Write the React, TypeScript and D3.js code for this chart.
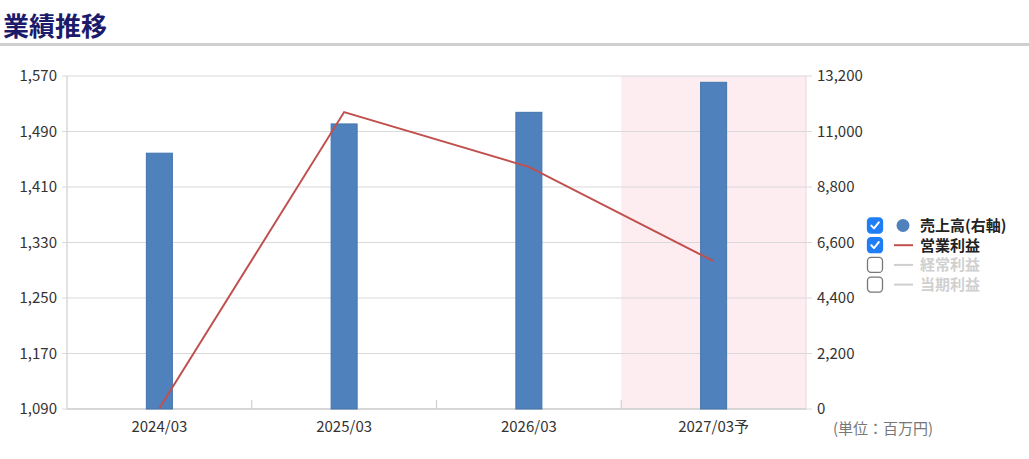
import { useEffect, useRef } from 'react';
import * as d3 from 'd3';

const periods = ['2024/03', '2025/03', '2026/03', '2027/03予'];
const sales = [10140, 11300, 11760, 12950];
const operatingProfit = [1091, 1518, 1439, 1303];
const forecastIndex = 3;

const leftTicks = [1090, 1170, 1250, 1330, 1410, 1490, 1570];
const rightTicks = [0, 2200, 4400, 6600, 8800, 11000, 13200];

const legendItems = [
  { label: '売上高(右軸)', type: 'circle', checked: true },
  { label: '営業利益', type: 'line', checked: true },
  { label: '経常利益', type: 'line', checked: false },
  { label: '当期利益', type: 'line', checked: false },
];

const BAR = '#4f81bd';
const LINE = '#c0504d';
const FONT = '"Noto Sans CJK JP", "Noto Sans", sans-serif';

export default function App() {
  const svgRef = useRef<SVGSVGElement>(null);

  useEffect(() => {
    document.body.style.margin = '0';
    if (!svgRef.current) return;
    const svg = d3.select(svgRef.current);
    svg.selectAll('*').remove();

    const plot = { left: 67, right: 806, top: 76, bottom: 409 };

    // title + rule
    svg.append('text')
      .attr('x', 3)
      .attr('y', 36)
      .attr('font-size', 26)
      .attr('font-weight', 'bold')
      .attr('fill', '#1c1a6b')
      .text('業績推移');
    svg.append('rect')
      .attr('x', 0).attr('y', 43)
      .attr('width', 1029).attr('height', 3)
      .attr('fill', '#cfcfcf');

    const x = d3.scaleBand<string>()
      .domain(periods)
      .range([plot.left, plot.right]);
    const yLeft = d3.scaleLinear().domain([1090, 1570]).range([plot.bottom, plot.top]);
    const yRight = d3.scaleLinear().domain([0, 13200]).range([plot.bottom, plot.top]);

    // forecast band
    svg.append('rect')
      .attr('x', x(periods[forecastIndex])!)
      .attr('y', plot.top)
      .attr('width', x.bandwidth())
      .attr('height', plot.bottom - plot.top)
      .attr('fill', '#fdedf0');
    svg.append('line')
      .attr('x1', plot.right).attr('x2', plot.right)
      .attr('y1', plot.top).attr('y2', plot.bottom)
      .attr('stroke', '#efd3d9');

    // grid
    svg.append('g')
      .selectAll('line')
      .data(leftTicks)
      .join('line')
      .attr('x1', plot.left - 5)
      .attr('x2', plot.right + 6)
      .attr('y1', d => yLeft(d))
      .attr('y2', d => yLeft(d))
      .attr('stroke', '#d9d9d9')
      .attr('stroke-width', 1.2);

    // left axis
    const leftAxis = svg.append('g')
      .attr('transform', `translate(${plot.left},0)`)
      .call(d3.axisLeft(yLeft).tickValues(leftTicks).tickSize(0).tickPadding(10).tickFormat(d3.format(',')));
    leftAxis.select('.domain').remove();
    leftAxis.selectAll('text').attr('font-size', 15).attr('fill', '#333').attr('font-family', FONT);
    svg.append('line')
      .attr('x1', plot.left).attr('x2', plot.left)
      .attr('y1', plot.top).attr('y2', plot.bottom)
      .attr('stroke', '#d9d9d9').attr('stroke-width', 1.5);

    // right axis
    const rightAxis = svg.append('g')
      .attr('transform', `translate(${plot.right},0)`)
      .call(d3.axisRight(yRight).tickValues(rightTicks).tickSize(0).tickPadding(11).tickFormat(d3.format(',')));
    rightAxis.select('.domain').remove();
    rightAxis.selectAll('text').attr('font-size', 15).attr('fill', '#333').attr('font-family', FONT);

    // bottom axis
    const bottomAxis = svg.append('g')
      .attr('transform', `translate(0,${plot.bottom})`)
      .call(d3.axisBottom(x).tickSize(0).tickPadding(12));
    bottomAxis.select('.domain').remove();
    bottomAxis.selectAll('text').attr('font-size', 15).attr('fill', '#333').attr('font-family', FONT);
    svg.append('line')
      .attr('x1', plot.left).attr('x2', plot.right)
      .attr('y1', plot.bottom).attr('y2', plot.bottom)
      .attr('stroke', '#d0d0d0').attr('stroke-width', 1.5);
    svg.append('g')
      .selectAll('line')
      .data(periods.slice(1))
      .join('line')
      .attr('x1', d => x(d)!)
      .attr('x2', d => x(d)!)
      .attr('y1', plot.bottom - 9)
      .attr('y2', plot.bottom)
      .attr('stroke', '#d0d0d0')
      .attr('stroke-width', 1.2);

    // bars
    const barW = 26;
    svg.append('g')
      .selectAll('rect')
      .data(sales)
      .join('rect')
      .attr('x', (_, i) => x(periods[i])! + x.bandwidth() / 2 - barW / 2)
      .attr('y', d => yRight(d))
      .attr('width', barW)
      .attr('height', d => plot.bottom - yRight(d))
      .attr('fill', BAR)
      .attr('stroke', '#4474ab')
      .attr('stroke-width', 1);

    // line
    const line = d3.line<number>()
      .x((_, i) => x(periods[i])! + x.bandwidth() / 2)
      .y(d => yLeft(d));
    svg.append('path')
      .datum(operatingProfit)
      .attr('fill', 'none')
      .attr('stroke', LINE)
      .attr('stroke-width', 2)
      .attr('d', line);

    // unit
    svg.append('text')
      .attr('x', 833)
      .attr('y', 434)
      .attr('font-size', 15)
      .attr('fill', '#777')
      .attr('font-family', FONT)
      .text('(単位：百万円)');

    // legend
    const legend = svg.append('g').attr('transform', 'translate(867,225)');
    const rows = legend.selectAll('g')
      .data(legendItems)
      .join('g')
      .attr('transform', (_, i) => `translate(0,${i * 19.7})`);

    rows.append('rect')
      .attr('x', 0.5).attr('y', -7)
      .attr('width', 15).attr('height', 15)
      .attr('rx', 3.5)
      .attr('fill', d => (d.checked ? '#1f7ef5' : '#fff'))
      .attr('stroke', d => (d.checked ? '#1f7ef5' : '#777'))
      .attr('stroke-width', 1.3);
    rows.filter(d => d.checked)
      .append('path')
      .attr('d', 'M4.3,0.6 L7,3.4 L11.8,-2.6')
      .attr('fill', 'none')
      .attr('stroke', '#fff')
      .attr('stroke-width', 2)
      .attr('stroke-linecap', 'round')
      .attr('stroke-linejoin', 'round');

    rows.filter(d => d.type === 'circle')
      .append('circle')
      .attr('cx', 36).attr('cy', 0.5).attr('r', 6.5)
      .attr('fill', BAR);
    rows.filter(d => d.type === 'line')
      .append('line')
      .attr('x1', 27).attr('x2', 46)
      .attr('y1', 0.5).attr('y2', 0.5)
      .attr('stroke', d => (d.checked ? LINE : '#cfcfcf'))
      .attr('stroke-width', 2);

    rows.append('text')
      .attr('x', 53)
      .attr('y', 0.5)
      .attr('dy', '0.36em')
      .attr('font-size', 15)
      .attr('font-weight', 'bold')
      .attr('font-family', FONT)
      .attr('fill', d => (d.checked ? '#222' : '#d0d0d0'))
      .text(d => d.label);
  }, []);

  return (
    <svg
      ref={svgRef}
      width={1029}
      height={459}
      style={{ display: 'block', background: '#fff', fontFamily: FONT }}
    />
  );
}
